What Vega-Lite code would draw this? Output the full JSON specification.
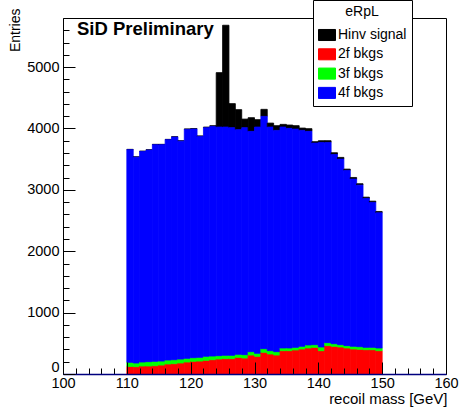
{
  "$schema": "https://vega.github.io/schema/vega-lite/v6.json",
  "autosize": {"type": "none"},
  "width": 383,
  "height": 356,
  "padding": {"left": 63, "top": 18, "right": 13, "bottom": 33},
  "background": "white",
  "config": {
    "font": "Liberation Sans",
    "view": {"stroke": "black", "strokeWidth": 1}
  },
  "title": {
    "text": "SiD Preliminary",
    "anchor": "start",
    "frame": "group",
    "offset": 0,
    "dx": 14,
    "dy": 53.5,
    "baseline": "alphabetic",
    "fontSize": 18.5,
    "fontWeight": "bold",
    "color": "black",
    "font": "Liberation Sans"
  },
  "data": {
    "values": [
      {"m": 110, "b2f": 124, "b3f": 66, "b4f": 3464, "sig": 6},
      {"m": 111, "b2f": 119, "b3f": 60, "b4f": 3354, "sig": 6},
      {"m": 112, "b2f": 130, "b3f": 65, "b4f": 3431, "sig": 6},
      {"m": 113, "b2f": 130, "b3f": 71, "b4f": 3447, "sig": 6},
      {"m": 114, "b2f": 135, "b3f": 71, "b4f": 3530, "sig": 6},
      {"m": 115, "b2f": 146, "b3f": 65, "b4f": 3525, "sig": 6},
      {"m": 116, "b2f": 163, "b3f": 65, "b4f": 3589, "sig": 6},
      {"m": 117, "b2f": 168, "b3f": 65, "b4f": 3627, "sig": 6},
      {"m": 118, "b2f": 179, "b3f": 65, "b4f": 3550, "sig": 6},
      {"m": 119, "b2f": 195, "b3f": 60, "b4f": 3730, "sig": 8},
      {"m": 120, "b2f": 206, "b3f": 60, "b4f": 3724, "sig": 8},
      {"m": 121, "b2f": 211, "b3f": 60, "b4f": 3600, "sig": 8},
      {"m": 122, "b2f": 222, "b3f": 66, "b4f": 3725, "sig": 10},
      {"m": 123, "b2f": 233, "b3f": 60, "b4f": 3741, "sig": 12},
      {"m": 124, "b2f": 244, "b3f": 55, "b4f": 3724, "sig": 887},
      {"m": 125, "b2f": 250, "b3f": 54, "b4f": 3719, "sig": 1659},
      {"m": 126, "b2f": 250, "b3f": 54, "b4f": 3709, "sig": 392},
      {"m": 127, "b2f": 271, "b3f": 49, "b4f": 3660, "sig": 327},
      {"m": 128, "b2f": 260, "b3f": 55, "b4f": 3698, "sig": 140},
      {"m": 129, "b2f": 309, "b3f": 55, "b4f": 3589, "sig": 223},
      {"m": 130, "b2f": 288, "b3f": 49, "b4f": 3686, "sig": 121},
      {"m": 131, "b2f": 353, "b3f": 60, "b4f": 3784, "sig": 115},
      {"m": 132, "b2f": 326, "b3f": 54, "b4f": 3643, "sig": 65},
      {"m": 133, "b2f": 309, "b3f": 55, "b4f": 3605, "sig": 77},
      {"m": 134, "b2f": 380, "b3f": 44, "b4f": 3599, "sig": 44},
      {"m": 135, "b2f": 380, "b3f": 44, "b4f": 3578, "sig": 54},
      {"m": 136, "b2f": 391, "b3f": 43, "b4f": 3556, "sig": 56},
      {"m": 137, "b2f": 407, "b3f": 44, "b4f": 3518, "sig": 38},
      {"m": 138, "b2f": 424, "b3f": 49, "b4f": 3480, "sig": 44},
      {"m": 139, "b2f": 434, "b3f": 44, "b4f": 3284, "sig": 23},
      {"m": 140, "b2f": 380, "b3f": 60, "b4f": 3333, "sig": 28},
      {"m": 141, "b2f": 462, "b3f": 49, "b4f": 3262, "sig": 28},
      {"m": 142, "b2f": 451, "b3f": 43, "b4f": 3083, "sig": 28},
      {"m": 143, "b2f": 440, "b3f": 38, "b4f": 3023, "sig": 28},
      {"m": 144, "b2f": 424, "b3f": 38, "b4f": 2854, "sig": 22},
      {"m": 145, "b2f": 407, "b3f": 44, "b4f": 2724, "sig": 27},
      {"m": 146, "b2f": 402, "b3f": 43, "b4f": 2632, "sig": 23},
      {"m": 147, "b2f": 396, "b3f": 38, "b4f": 2426, "sig": 21},
      {"m": 148, "b2f": 396, "b3f": 38, "b4f": 2361, "sig": 21},
      {"m": 149, "b2f": 380, "b3f": 44, "b4f": 2202, "sig": 22}
    ]
  },
  "transform": [
    {"fold": ["sig", "b2f", "b3f", "b4f"], "as": ["c", "n"]},
    {"calculate": "datum.m + 1", "as": "m2"},
    {"stack": "n", "groupby": ["m"], "sort": [{"field": "c", "order": "ascending"}], "as": ["y0", "y1"]}
  ],
  "mark": {"type": "bar", "strokeWidth": 0.8},
  "encoding": {
    "x": {
      "field": "m",
      "type": "quantitative",
      "scale": {"domain": [100, 160], "nice": false, "zero": false},
      "title": "recoil mass [GeV]",
      "axis": {
        "values": [100,102,104,106,108,110,112,114,116,118,120,122,124,126,128,130,132,134,136,138,140,142,144,146,148,150,152,154,156,158,160],
        "labelExpr": "datum.value % 10 === 0 ? datum.label : ''",
        "tickSize": {"condition": {"test": "datum.value % 10 === 0", "value": -12}, "value": -6},
        "tickColor": "black",
        "tickWidth": 1,
        "labelPadding": 14,
        "labelFlush": false,
        "labelOverlap": false,
        "labelFontSize": 14.5,
        "labelColor": "black",
        "domainColor": "#00007f",
        "domainWidth": 1.5,
        "grid": false,
        "zindex": 1,
        "titleAnchor": "end",
        "titleAlign": "right",
        "titleX": 384,
        "titleY": 29,
        "titleBaseline": "alphabetic",
        "titleFontSize": 15,
        "titleFontWeight": "normal",
        "titleColor": "black"
      }
    },
    "x2": {"field": "m2"},
    "y": {
      "field": "y1",
      "type": "quantitative",
      "scale": {"domain": [0, 5800], "nice": false},
      "title": "Entries",
      "axis": {
        "values": [0,200,400,600,800,1000,1200,1400,1600,1800,2000,2200,2400,2600,2800,3000,3200,3400,3600,3800,4000,4200,4400,4600,4800,5000,5200,5400,5600,5800],
        "labelExpr": "datum.value % 1000 === 0 ? datum.label : ''",
        "format": "d",
        "tickSize": {"condition": {"test": "datum.value % 1000 === 0", "value": -12}, "value": -6},
        "tickColor": "black",
        "tickWidth": 1,
        "labelPadding": 16,
        "labelBaseline": {"condition": {"test": "datum.value === 0", "value": "bottom"}, "value": "middle"},
        "labelFlush": false,
        "labelOverlap": false,
        "labelFontSize": 14.5,
        "labelColor": "black",
        "domain": false,
        "grid": false,
        "zindex": 1,
        "titleAnchor": "end",
        "titleAlign": "right",
        "titleX": -44,
        "titleY": -10,
        "titleBaseline": "alphabetic",
        "titleFontSize": 14,
        "titleFontWeight": "normal",
        "titleColor": "black"
      }
    },
    "y2": {"field": "y0"},
    "stroke": {
      "field": "c",
      "type": "nominal",
      "scale": {"domain": ["sig", "b2f", "b3f", "b4f"], "range": ["#000000", "#ff0000", "#00ff00", "#0000ff"]},
      "legend": null
    },
    "color": {
      "field": "c",
      "type": "nominal",
      "scale": {"domain": ["sig", "b2f", "b3f", "b4f"], "range": ["#000000", "#ff0000", "#00ff00", "#0000ff"]},
      "legend": {
        "orient": "none",
        "legendX": 250,
        "legendY": -18,
        "title": "eRpL",
        "titleAnchor": "middle",
        "titleFontSize": 14,
        "titleFontWeight": "normal",
        "titleColor": "black",
        "titlePadding": 7,
        "labelFontSize": 14,
        "labelColor": "black",
        "labelOffset": 2,
        "labelExpr": "datum.label === 'sig' ? 'Hinv signal' : datum.label === 'b2f' ? '2f bkgs' : datum.label === 'b3f' ? '3f bkgs' : '4f bkgs'",
        "symbolType": "M-1,-0.65L1,-0.65L1,0.65L-1,0.65Z",
        "symbolSize": 289,
        "symbolStrokeColor": "#1a1a9a",
        "symbolStrokeWidth": 1,
        "symbolOpacity": 1,
        "fillColor": "white",
        "strokeColor": "black",
        "padding": 5,
        "rowPadding": 2.3
      }
    }
  }
}
